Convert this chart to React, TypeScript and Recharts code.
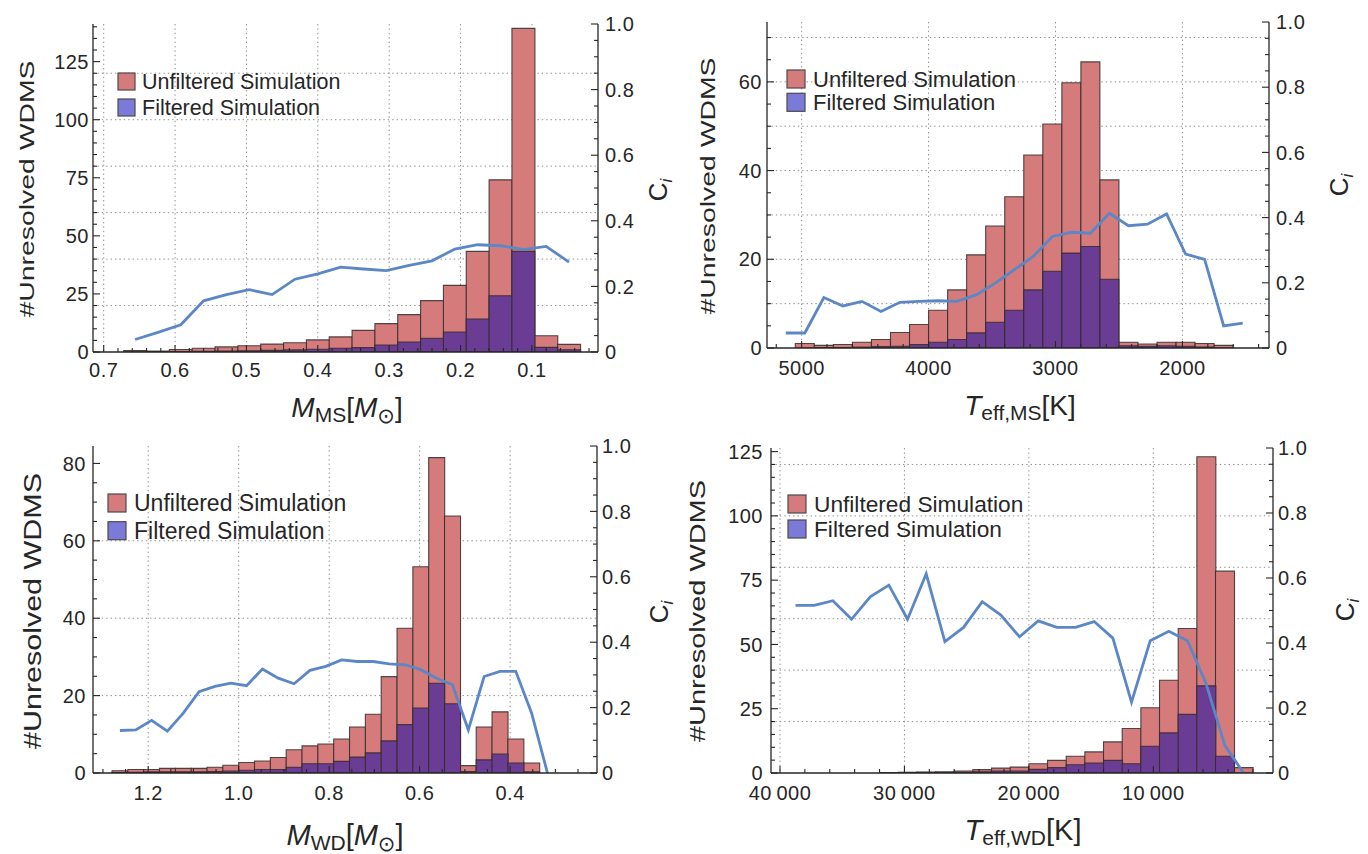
import React from 'react';
import { ComposedChart, Bar, Line, XAxis, YAxis, CartesianGrid, Legend } from 'recharts';

// ---------- top left: main-sequence mass ----------
const msMassBins = [0.656, 0.624, 0.592, 0.56, 0.528, 0.496, 0.464, 0.432, 0.4, 0.368, 0.336, 0.304, 0.272, 0.24, 0.208, 0.176, 0.144, 0.112, 0.08, 0.048];
const msMassAll = [0.6, 0.4, 1.1, 1.6, 2.2, 2.7, 3.4, 4.0, 5.2, 6.5, 9.3, 12.2, 16.1, 22.1, 28.7, 43.3, 74.1, 139.3, 7.0, 3.3];
const msMassSel = [0, 0.1, 0.2, 0.3, 0.4, 0.5, 0.7, 0.9, 1.2, 1.6, 1.9, 3.0, 4.3, 5.9, 8.6, 14.2, 24.2, 43.3, 2.0, 1.0];
const msMassCi = [0.038, 0.06, 0.083, 0.156, 0.175, 0.19, 0.175, 0.222, 0.238, 0.259, 0.253, 0.248, 0.264, 0.278, 0.314, 0.327, 0.324, 0.312, 0.322, 0.274];
const msMassTicks = [0.1, 0.2, 0.3, 0.4, 0.5, 0.6, 0.7];
const msMassCountTicks = [0, 25, 50, 75, 100, 125];

// ---------- top right: main-sequence temperature ----------
const msTeffBins = [5125, 4975, 4825, 4675, 4525, 4375, 4225, 4075, 3925, 3775, 3625, 3475, 3325, 3175, 3025, 2875, 2725, 2575, 2425, 2275, 2125, 1975, 1825, 1675, 1525];
const msTeffAll = [0, 1.0, 0.6, 0.8, 1.3, 1.9, 3.5, 5.3, 8.5, 13.1, 21.0, 27.5, 34.1, 43.5, 50.5, 59.8, 64.5, 37.9, 1.3, 0.9, 1.3, 1.3, 1.0, 0.6, 0];
const msTeffSel = [0, 0, 0.1, 0.1, 0.2, 0.3, 0.4, 0.75, 1.3, 1.9, 3.4, 5.8, 8.5, 13.1, 17.3, 21.4, 22.9, 15.5, 0.5, 0.4, 0.5, 0.4, 0.2, 0, 0];
const msTeffCi = [0.046, 0.046, 0.155, 0.129, 0.143, 0.112, 0.14, 0.143, 0.145, 0.143, 0.163, 0.199, 0.24, 0.281, 0.342, 0.355, 0.352, 0.413, 0.375, 0.38, 0.411, 0.288, 0.272, 0.068, 0.076];
const msTeffTicks = [2000, 3000, 4000, 5000];
const msTeffCountTicks = [0, 20, 40, 60];

// ---------- bottom left: white-dwarf mass ----------
const wdMassBins = [1.2625, 1.2275, 1.1925, 1.1575, 1.1225, 1.0875, 1.0525, 1.0175, 0.9825, 0.9475, 0.9125, 0.8775, 0.8425, 0.8075, 0.7725, 0.7375, 0.7025, 0.6675, 0.6325, 0.5975, 0.5625, 0.5275, 0.4925, 0.4575, 0.4225, 0.3875, 0.3525, 0.3175];
const wdMassAll = [0.6, 0.9, 0.9, 1.2, 1.2, 1.2, 1.5, 2.0, 2.7, 3.1, 4.0, 6.0, 7.0, 7.5, 8.8, 11.9, 15.2, 24.9, 37.4, 53.3, 81.5, 66.4, 1.9, 11.9, 15.8, 8.8, 2.6, 0];
const wdMassSel = [0.1, 0.2, 0.3, 0.3, 0.3, 0.3, 0.4, 0.5, 0.7, 0.9, 0.9, 1.5, 2.4, 2.4, 3.0, 4.1, 5.2, 8.3, 12.5, 16.8, 23.2, 17.9, 0.4, 3.4, 4.9, 2.6, 0.3, 0];
const wdMassCi = [0.13, 0.132, 0.161, 0.128, 0.183, 0.249, 0.265, 0.275, 0.267, 0.318, 0.29, 0.273, 0.314, 0.326, 0.346, 0.341, 0.341, 0.334, 0.331, 0.316, 0.29, 0.27, 0.132, 0.295, 0.311, 0.311, 0.183, 0];
const wdMassTicks = [0.4, 0.6, 0.8, 1.0, 1.2];
const wdMassCountTicks = [0, 20, 40, 60, 80];

// ---------- bottom right: white-dwarf temperature ----------
const wdTeffBins = [38750, 37250, 35750, 34250, 32750, 31250, 29750, 28250, 26750, 25250, 23750, 22250, 20750, 19250, 17750, 16250, 14750, 13250, 11750, 10250, 8750, 7250, 5750, 4250, 2750];
const wdTeffAll = [0, 0, 0, 0, 0, 0.15, 0.3, 0.4, 0.5, 0.8, 1.3, 1.9, 2.3, 3.6, 4.9, 6.5, 8.2, 12.1, 17.3, 25.4, 36.1, 56.2, 123, 78.5, 2.1];
const wdTeffSel = [0, 0, 0, 0, 0, 0.05, 0.1, 0.1, 0.2, 0.3, 0.5, 0.8, 0.8, 1.4, 2.1, 3.2, 3.9, 4.9, 3.6, 10.4, 15.6, 22.8, 33.9, 6.5, 0];
const wdTeffCi = [0.516, 0.516, 0.53, 0.473, 0.542, 0.578, 0.473, 0.613, 0.404, 0.448, 0.527, 0.486, 0.419, 0.468, 0.448, 0.448, 0.466, 0.415, 0.218, 0.407, 0.436, 0.407, 0.274, 0.085, 0];
const wdTeffTicks = [10000, 20000, 30000, 40000];
const wdTeffCountTicks = [0, 25, 50, 75, 100, 125];

const ciTicks = [0, 0.2, 0.4, 0.6, 0.8, 1.0];
const legendLabels = ['Unfiltered Simulation', 'Filtered Simulation'];

const FONT = '"Liberation Sans", Arial, "DejaVu Sans", sans-serif';
const INK = '#262626';
const RED = '#d57b7c';
const PURPLE = '#6b3c93';
const SWATCH_BLUE = '#7c7ad8';
const LINE_BLUE = '#5b87c6';
const EDGE = '#332c2c';
const W = 684;
const H = 427;

const ladder = (lo: number, hi: number, step: number) => {
  const n = Math.round((hi - lo) / step);
  return Array.from({ length: n + 1 }, (_, i) => +(lo + i * step).toFixed(6));
};
const isMajor = (majors: number[], v: number) =>
  majors.some(m => Math.abs(m - v) <= Math.abs(m) * 1e-6 + 1e-9);

const oneDecimal = (v: number) => v.toFixed(1);
const plain = (v: number) => String(v);
const ciFmt = (v: number) => (v === 0 ? '0' : v.toFixed(1));
const grouped = (v: number) => (v >= 10000 ? `${Math.round(v / 1000)}\u2009000` : String(v));

type Side = 'bottom' | 'top' | 'left' | 'right';

function makeTick(side: Side, majors: number[], fmt: ((v: number) => string) | null, gap: number, size: number) {
  return (props: any) => {
    const { x, y, payload } = props;
    const v = Number(payload.value);
    const major = isMajor(majors, v);
    const len = major ? 7 : 4;
    let mark: React.ReactNode = null;
    let text: React.ReactNode = null;
    const ts = { fontFamily: FONT, fontSize: size, fill: INK, letterSpacing: 0.5 };
    if (side === 'bottom') {
      mark = <line x1={x} y1={y} x2={x} y2={y - len} stroke={INK} strokeWidth={1.1} />;
      if (major && fmt) text = <text x={x} y={y + gap} textAnchor="middle" {...ts}>{fmt(v)}</text>;
    } else if (side === 'top') {
      mark = <line x1={x} y1={y} x2={x} y2={y + len} stroke={INK} strokeWidth={1.1} />;
    } else if (side === 'left') {
      mark = <line x1={x} y1={y} x2={x + len} y2={y} stroke={INK} strokeWidth={1.1} />;
      if (major && fmt) text = <text x={x - gap} y={y} dy="0.36em" textAnchor="end" {...ts}>{fmt(v)}</text>;
    } else {
      mark = <line x1={x} y1={y} x2={x - len} y2={y} stroke={INK} strokeWidth={1.1} />;
      if (major && fmt) text = <text x={x + gap} y={y} dy="0.36em" textAnchor="start" {...ts}>{fmt(v)}</text>;
    }
    return <g>{mark}{text}</g>;
  };
}

type PanelCfg = {
  id: string;
  pos: [number, number];
  plot: { l: number; t: number; r: number; b: number };
  bins: number[];
  all: number[];
  sel: number[];
  ci: number[];
  xDomain: [number, number];
  yMax: number;
  xMajor: number[];
  xMinor: number[];
  xFmt: (v: number) => string;
  yMajor: number[];
  yMinor: number[];
  gridY: number[];
  gaps: { b: number; l: number; r: number };
  tickFont: number;
  xTitle: { sym: string; sub: string; unit: 'sun' | 'K'; cx: number; by: number; size: number };
  yTitle: { bx: number; cy: number; len: number; size: number };
  ciTitle: { bx: number; cy: number };
  legend: { x: number; y: number; pitch: number; dx: number; font: number; box: number };
};

const panels: PanelCfg[] = [
  {
    id: 'ms-mass', pos: [0, 0], plot: { l: 93, t: 24, r: 598, b: 352 },
    bins: msMassBins, all: msMassAll, sel: msMassSel, ci: msMassCi,
    xDomain: [0.0074, 0.715], yMax: 141.2,
    xMajor: msMassTicks, xMinor: ladder(0.02, 0.7, 0.02), xFmt: oneDecimal,
    yMajor: msMassCountTicks, yMinor: ladder(0, 140, 5), gridY: [20, 40, 60, 80, 100, 120],
    gaps: { b: 25, l: 4, r: 7 }, tickFont: 20,
    xTitle: { sym: 'M', sub: 'MS', unit: 'sun', cx: 347, by: 417, size: 28 },
    yTitle: { bx: 34, cy: 189, len: 257, size: 21 },
    ciTitle: { bx: 667, cy: 190 },
    legend: { x: 118, y: 73, pitch: 26, dx: 24, font: 21.5, box: 17 },
  },
  {
    id: 'ms-teff', pos: [684, 0], plot: { l: 83, t: 22, r: 585, b: 348 },
    bins: msTeffBins, all: msTeffAll, sel: msTeffSel, ci: msTeffCi,
    xDomain: [1318, 5273], yMax: 73.5,
    xMajor: msTeffTicks, xMinor: ladder(1400, 5200, 200), xFmt: plain,
    yMajor: msTeffCountTicks, yMinor: ladder(0, 70, 5), gridY: [10, 20, 30, 40, 50, 60, 70],
    gaps: { b: 27, l: 5, r: 7 }, tickFont: 20,
    xTitle: { sym: 'T', sub: 'eff,MS', unit: 'K', cx: 336, by: 415, size: 28 },
    yTitle: { bx: 31, cy: 186, len: 257, size: 21 },
    ciTitle: { bx: 664, cy: 185 },
    legend: { x: 103, y: 70, pitch: 23.3, dx: 26, font: 22, box: 18 },
  },
  {
    id: 'wd-mass', pos: [0, 427], plot: { l: 93, t: 19, r: 597, b: 346 },
    bins: wdMassBins, all: wdMassAll, sel: wdMassSel, ci: wdMassCi,
    xDomain: [0.208, 1.322], yMax: 84.5,
    xMajor: wdMassTicks, xMinor: ladder(0.25, 1.3, 0.05), xFmt: oneDecimal,
    yMajor: wdMassCountTicks, yMinor: ladder(0, 80, 5), gridY: [20, 40, 60],
    gaps: { b: 27, l: 7, r: 5 }, tickFont: 20,
    xTitle: { sym: 'M', sub: 'WD', unit: 'sun', cx: 345, by: 418, size: 29 },
    yTitle: { bx: 41, cy: 184, len: 276, size: 23 },
    ciTitle: { bx: 668, cy: 185 },
    legend: { x: 108, y: 67, pitch: 27.7, dx: 26, font: 23, box: 18 },
  },
  {
    id: 'wd-teff', pos: [684, 427], plot: { l: 87, t: 21, r: 589, b: 346 },
    bins: wdTeffBins, all: wdTeffAll, sel: wdTeffSel, ci: wdTeffCi,
    xDomain: [380, 40723], yMax: 126.4,
    xMajor: wdTeffTicks, xMinor: ladder(2000, 40000, 2000), xFmt: grouped,
    yMajor: wdTeffCountTicks, yMinor: ladder(0, 125, 5), gridY: [20, 40, 60, 80, 100, 120],
    gaps: { b: 27, l: 8, r: 5 }, tickFont: 20,
    xTitle: { sym: 'T', sub: 'eff,WD', unit: 'K', cx: 339, by: 413, size: 29 },
    yTitle: { bx: 21, cy: 184, len: 262, size: 22 },
    ciTitle: { bx: 670, cy: 183 },
    legend: { x: 104, y: 68, pitch: 25, dx: 26, font: 22.7, box: 18 },
  },
];

function XTitle({ p }: { p: PanelCfg }) {
  const t = p.xTitle;
  const sub = Math.round(t.size * 0.74);
  return (
    <text x={t.cx} y={t.by} textAnchor="middle" fontFamily={FONT} fontSize={t.size} fill={INK}>
      <tspan fontStyle="italic">{t.sym}</tspan>
      <tspan fontSize={sub} dy={5}>{t.sub}</tspan>
      <tspan dy={-5}>[</tspan>
      {t.unit === 'sun' ? (
        <>
          <tspan fontStyle="italic">M</tspan>
          <tspan fontSize={sub} dy={6}>{'\u2299'}</tspan>
          <tspan dy={-6}>]</tspan>
        </>
      ) : (
        <tspan>K]</tspan>
      )}
    </text>
  );
}

function YTitle({ p }: { p: PanelCfg }) {
  const t = p.yTitle;
  return (
    <text
      x={t.bx} y={t.cy} transform={`rotate(-90 ${t.bx} ${t.cy})`} textAnchor="middle"
      fontFamily={FONT} fontSize={t.size} fill={INK} textLength={t.len} lengthAdjust="spacingAndGlyphs"
    >
      #Unresolved WDMS
    </text>
  );
}

function CiTitle({ p }: { p: PanelCfg }) {
  const t = p.ciTitle;
  return (
    <text x={t.bx} y={t.cy} transform={`rotate(-90 ${t.bx} ${t.cy})`} textAnchor="middle" fontFamily={FONT} fontSize={26} fill={INK}>
      C<tspan fontStyle="italic" fontSize={17} dy={5}>i</tspan>
    </text>
  );
}

function LegendBox({ p }: { p: PanelCfg }) {
  const g = p.legend;
  const fills = [RED, SWATCH_BLUE];
  return (
    <svg width={300} height={80} style={{ display: 'block', overflow: 'visible' }}>
      {legendLabels.map((label, i) => (
        <g key={label}>
          <rect x={1} y={1 + i * g.pitch} width={g.box} height={g.box} fill={fills[i]} stroke="#4a4a4a" strokeWidth={1.2} />
          <text x={1 + g.dx} y={1 + i * g.pitch + g.box - 1} fontFamily={FONT} fontSize={g.font} fill={INK}>
            {label}
          </text>
        </g>
      ))}
    </svg>
  );
}

function Panel({ p }: { p: PanelCfg }) {
  const rows = p.bins.map((c, i) => ({ c, all: p.all[i], sel: p.sel[i], ci: p.ci[i] }));
  const { l, t, r, b } = p.plot;
  const xTicks = Array.from(new Set([...p.xMinor, ...p.xMajor])).sort((a, z) => a - z);
  const yTicks = Array.from(new Set([...p.yMinor, ...p.yMajor])).sort((a, z) => a - z);
  const ciAll = ladder(0, 1, 0.05);
  const axisLine = { stroke: INK, strokeWidth: 1.3 };
  return (
    <div style={{ position: 'absolute', left: p.pos[0], top: p.pos[1], width: W, height: H }}>
      <ComposedChart
        width={W} height={H} data={rows}
        margin={{ top: t, right: 0, bottom: 0, left: 0 }}
        barCategoryGap={0} barGap={0}
      >
        <CartesianGrid
          xAxisId="x" yAxisId="l"
          horizontalValues={p.gridY} verticalValues={p.xMajor}
          stroke="#8f8f8f" strokeDasharray="1.4 3"
        />
        <Bar xAxisId="x" yAxisId="l" dataKey="all" fill={RED} stroke={EDGE} strokeWidth={1.1} strokeOpacity={0.85} isAnimationActive={false} />
        <Bar xAxisId="x2" yAxisId="l" dataKey="sel" fill={PURPLE} stroke={EDGE} strokeWidth={1.1} strokeOpacity={0.85} isAnimationActive={false} />
        <Line
          xAxisId="x" yAxisId="r" dataKey="ci" type="linear"
          stroke={LINE_BLUE} strokeWidth={2.8} dot={false} activeDot={false} isAnimationActive={false}
        />
        <XAxis
          xAxisId="x" type="number" dataKey="c" domain={p.xDomain} reversed allowDataOverflow
          ticks={xTicks} interval={0} height={H - b} tickSize={0} tickMargin={0} tickLine={false}
          axisLine={axisLine} tick={makeTick('bottom', p.xMajor, p.xFmt, p.gaps.b, p.tickFont)}
          label={() => <XTitle p={p} />}
        />
        <XAxis
          xAxisId="x2" orientation="top" type="number" dataKey="c" domain={p.xDomain} reversed allowDataOverflow
          ticks={xTicks} interval={0} height={0} tickSize={0} tickMargin={0} tickLine={false}
          axisLine={axisLine} tick={makeTick('top', p.xMajor, null, 0, p.tickFont)}
        />
        <YAxis
          yAxisId="l" orientation="left" type="number" domain={[0, p.yMax]} allowDataOverflow
          ticks={yTicks} interval={0} width={l} tickSize={0} tickMargin={0} tickLine={false}
          axisLine={axisLine} tick={makeTick('left', p.yMajor, plain, p.gaps.l, p.tickFont)}
          label={() => <YTitle p={p} />}
        />
        <YAxis
          yAxisId="r" orientation="right" type="number" domain={[0, 1]} allowDataOverflow
          ticks={ciAll} interval={0} width={W - r} tickSize={0} tickMargin={0} tickLine={false}
          axisLine={axisLine} tick={makeTick('right', ciTicks, ciFmt, p.gaps.r, p.tickFont)}
          label={() => <CiTitle p={p} />}
        />
        <Legend
          layout="vertical" align="center" verticalAlign="middle"
          wrapperStyle={{ left: p.legend.x - 1, top: p.legend.y - 1, width: 300, height: 80 }}
          content={() => <LegendBox p={p} />}
        />
      </ComposedChart>
    </div>
  );
}

export default function App() {
  return (
    <div style={{ position: 'absolute', left: 0, top: 0, width: 1368, height: 854, background: '#fff' }}>
      {panels.map(p => (
        <Panel key={p.id} p={p} />
      ))}
    </div>
  );
}
